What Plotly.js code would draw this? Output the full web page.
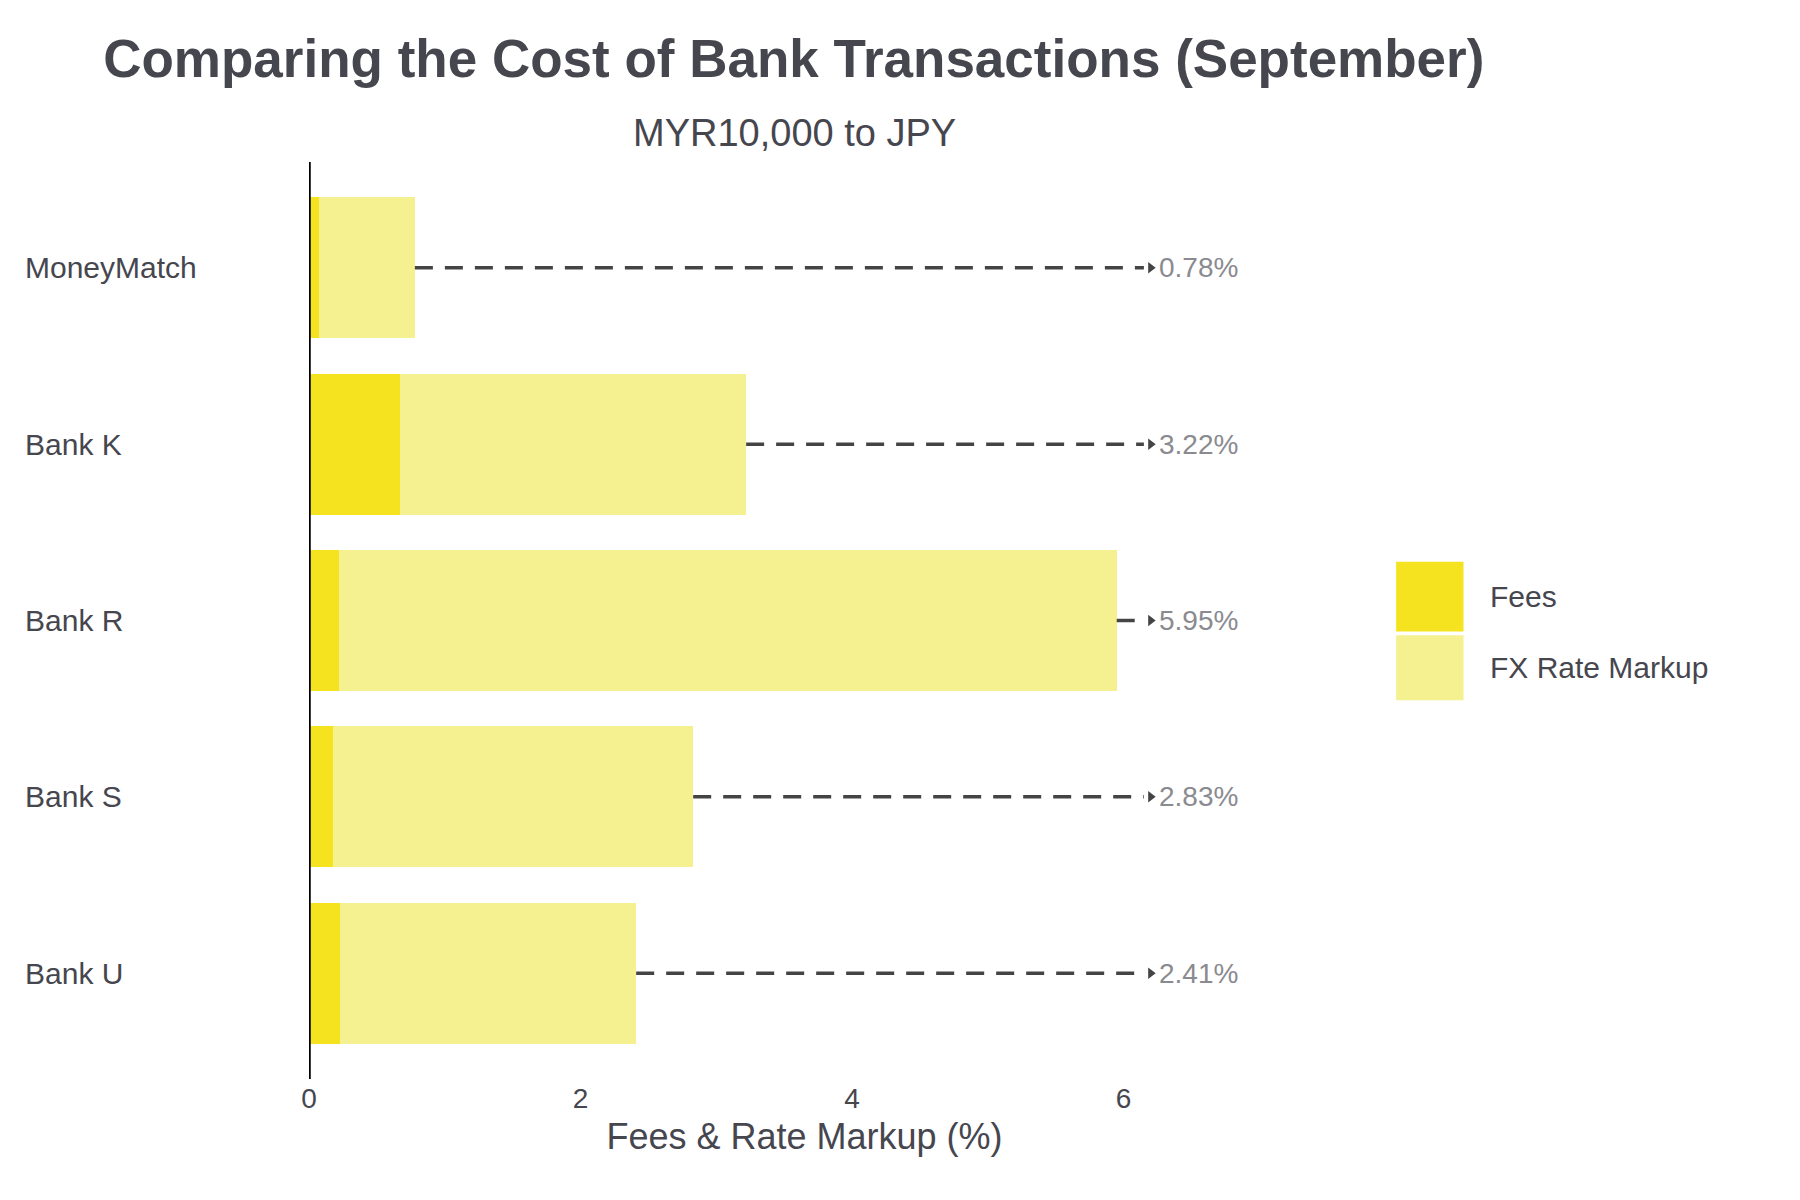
<!DOCTYPE html>
<html><head><script src="https://cdn.plot.ly/plotly-3.0.1.min.js"></script></head>
<body style="margin:0"><div id="chart" style="width:1800px;height:1200px"></div>
<script>
var banks = ["MoneyMatch", "Bank K", "Bank R", "Bank S", "Bank U"];
var fees = [0.07, 0.67, 0.22, 0.18, 0.23];
var totals = [0.78, 3.22, 5.95, 2.83, 2.41];
var markup = totals.map((t, i) => +(t - fees[i]).toFixed(2));
var arrowEnd = 6.2;
var feeColor = "#f5e31f", fxColor = "#f6f190";

var data = [
  {type: "bar", orientation: "h", name: "Fees", y: banks, x: fees,
   marker: {color: feeColor}, width: 0.8, showlegend: false},
  {type: "bar", orientation: "h", name: "FX Rate Markup", y: banks, x: markup,
   marker: {color: fxColor}, width: 0.8, showlegend: false}
];

// dashed leader lines from each bar end
banks.forEach((b, i) => {
  data.push({type: "scatter", mode: "lines", x: [totals[i], arrowEnd - 0.05], y: [b, b],
    line: {color: "#444", width: 3.5, dash: "18px,12px"}, showlegend: false, hoverinfo: "skip"});
  data.push({type: "scatter", mode: "markers", x: [arrowEnd], y: [b],
    marker: {symbol: "triangle-right", size: 10, color: "#444"}, showlegend: false, hoverinfo: "skip"});
});

var annotations = banks.map((b, i) => ({
  x: arrowEnd + 0.05, y: b, xanchor: "left", showarrow: false,
  text: totals[i].toFixed(2) + "%", font: {size: 28, color: "#8a8a90"}
}));
// left-aligned category labels
banks.forEach(b => annotations.push({x: -0.289, xref: "paper", y: b, xanchor: "left",
  showarrow: false, text: b, font: {size: 30, color: "#46464f"}}));
annotations.push({x: 0.49, xref: "paper", y: 1.0, yref: "paper", yshift: 52, showarrow: false,
  text: "MYR10,000 to JPY", font: {size: 38, color: "#46464f"}});

// custom legend
var legendItems = [["Fees", feeColor, 0.564, 0.488], ["FX Rate Markup", fxColor, 0.484, 0.413]];
var shapes = [{type: "line", xref: "x", yref: "paper", x0: 0, x1: 0, y0: 0, y1: 1,
  line: {color: "black", width: 3.5}}];
legendItems.forEach(it => {
  shapes.push({type: "rect", xref: "paper", yref: "paper", x0: 1.097, x1: 1.165,
    y0: it[3], y1: it[2], fillcolor: it[1], line: {width: 0}});
  annotations.push({x: 1.19, xref: "paper", y: (it[2] + it[3]) / 2, yref: "paper",
    xanchor: "left", showarrow: false, text: it[0], font: {size: 30, color: "#46464f"}});
});

var layout = {
  barmode: "stack",
  title: {text: "<b>Comparing the Cost of Bank Transactions (September)</b>",
    font: {size: 53, color: "#46464f"}, x: 0.441, xanchor: "center", y: 0.967},
  font: {family: "Liberation Sans, Arial", color: "#46464f"},
  paper_bgcolor: "white", plot_bgcolor: "white",
  margin: {l: 309, r: 500, t: 162, b: 121},
  showlegend: false,
  xaxis: {range: [0, 7.3], tickvals: [0, 2, 4, 6], showgrid: false, zeroline: false,
    ticks: "", tickfont: {size: 28},
    title: {text: "Fees & Rate Markup (%)", font: {size: 36}, standoff: 10}},
  yaxis: {range: [4.6, -0.6], showgrid: false, zeroline: false, ticks: "",
    showticklabels: false},
  shapes: shapes,
  annotations: annotations
};
Plotly.newPlot("chart", data, layout, {displayModeBar: false});
</script></body></html>
